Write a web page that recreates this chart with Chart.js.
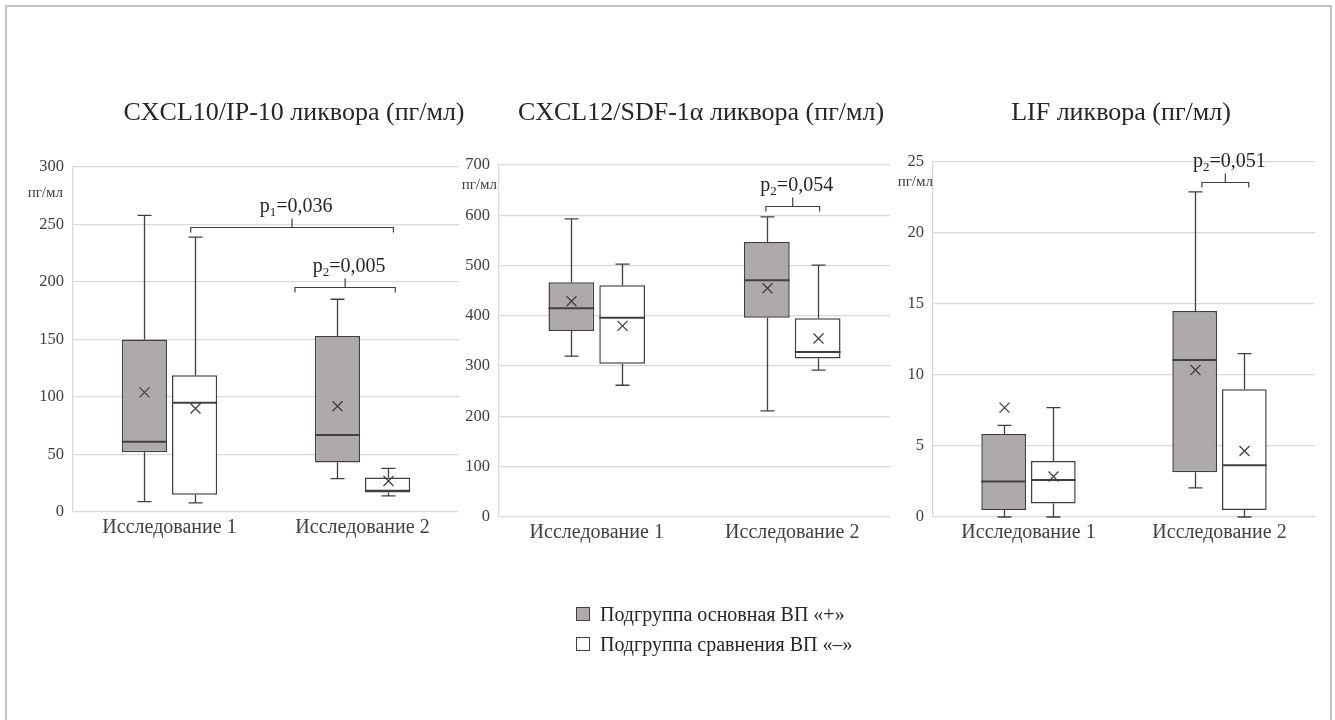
<!DOCTYPE html>
<html lang="ru">
<head>
<meta charset="utf-8">
<title>Цитокины ликвора</title>
<script src="https://cdn.jsdelivr.net/npm/chart.js@4.4.1/dist/chart.umd.min.js"></script>
<style>
  html, body { margin: 0; padding: 0; background: #fff; }
  body { width: 1335px; height: 720px; position: relative; overflow: hidden;
         font-family: 'Liberation Serif', 'Times New Roman', serif; }
  .frame { position: absolute; left: 5px; top: 5px; width: 1327px; height: 760px;
           border: 2px solid #c4c4c4; box-sizing: border-box; }
  canvas { position: absolute; top: 0; }
  #legend { position: absolute; left: 576px; top: 599px; color: #262626; font-size: 20px; }
  .lg-row { display: flex; align-items: center; height: 30px; }
  .lg-sw { width: 14px; height: 14px; border: 1px solid #404040; box-sizing: border-box; margin-right: 10px; }
</style>
</head>
<body>
<div class="frame"></div>
<canvas id="c1" width="470" height="720" style="left:0px"></canvas>
<canvas id="c2" width="460" height="720" style="left:440px"></canvas>
<canvas id="c3" width="460" height="720" style="left:875px"></canvas>
<div id="legend"></div>

<script>
// ===== DATA =====
// tiap titik: [min, Q1, median, Q3, max, mean]
const studies = ['Исследование 1', 'Исследование 2'];
const groupNames = ['Подгруппа основная ВП «+»', 'Подгруппа сравнения ВП «–»'];
const groupColors = ['#aeaaaa', '#ffffff'];

const cxcl10Main = [[9, 52, 61, 150, 258, 104], [29, 43, 67, 153, 185, 92]];
const cxcl10Comp = [[8, 15, 95, 119, 239, 90], [14, 17, 18.5, 30, 38, 27]];
const cxcl10Ticks = [0, 50, 100, 150, 200, 250, 300];

const cxcl12Main = [[320, 370, 415, 467, 593, 429], [211, 396, 471, 547, 597, 455]];
const cxcl12Comp = [[262, 305, 396, 461, 503, 380], [292, 315, 328, 395, 501, 355]];
const cxcl12Ticks = [0, 100, 200, 300, 400, 500, 600, 700];

const lifMain = [[0, 0.5, 2.5, 5.85, 6.45, 7.7], [2.05, 3.15, 11.05, 14.5, 22.9, 10.35]];
const lifComp = [[0, 0.95, 2.6, 3.95, 7.7, 2.85], [0, 0.5, 3.65, 9.0, 11.5, 4.65]];
const lifTicks = [0, 5, 10, 15, 20, 25];

// skobka p: dari/ke dalam satuan kategori, y dalam satuan nilai
const cxcl10Brackets = [
    { from: 0.11, to: 1.16, y: 248, idx: '1', text: '=0,036' },
    { from: 0.65, to: 1.17, y: 196, idx: '2', text: '=0,005' }
];
const cxcl12Brackets = [
    { from: 0.865, to: 1.14, y: 618, idx: '2', text: '=0,054' }
];
const lifBrackets = [
    { from: 0.908, to: 1.153, y: 23.6, idx: '2', text: '=0,051' }
];

const SERIF = "'Liberation Serif', 'Times New Roman', serif";
const INK = '#404040';

// ===== POSISI X DI SUMBU KATEGORI =====
function catX(chart, v) {
    const xs = chart.scales.x;
    const p0 = xs.getPixelForValue(0), p1 = xs.getPixelForValue(1);
    return p0 + v * (p1 - p0);
}

// ===== PLUGIN: KUMIS, MEDIAN, RATA-RATA, SKOBKA, JUDUL =====
const boxExtras = {
    id: 'boxExtras',
    afterDatasetsDraw(chart, args, opt) {
        const ctx = chart.ctx;
        const ys = chart.scales.y;
        const Y = v => ys.getPixelForValue(v);
        ctx.save();
        ctx.strokeStyle = INK;

        chart.data.datasets.forEach((ds, di) => {
            const meta = chart.getDatasetMeta(di);
            meta.data.forEach((bar, i) => {
                const [mn, q1, med, q3, mx, mean] = ds.stats[i];
                const x = Math.round(bar.x) + 0.5;
                const half = bar.width / 2;

                // kumis
                ctx.lineWidth = 1.3;
                ctx.beginPath();
                ctx.moveTo(x, Y(q3)); ctx.lineTo(x, Y(mx));
                ctx.moveTo(x - 7, Y(mx)); ctx.lineTo(x + 7, Y(mx));
                ctx.moveTo(x, Y(q1)); ctx.lineTo(x, Y(mn));
                ctx.moveTo(x - 7, Y(mn)); ctx.lineTo(x + 7, Y(mn));
                ctx.stroke();

                // median
                ctx.lineWidth = 2;
                ctx.beginPath();
                ctx.moveTo(bar.x - half, Y(med)); ctx.lineTo(bar.x + half, Y(med));
                ctx.stroke();

                // rata-rata (×)
                const my = Y(mean);
                ctx.lineWidth = 1.3;
                ctx.beginPath();
                ctx.moveTo(x - 5, my - 5); ctx.lineTo(x + 5, my + 5);
                ctx.moveTo(x + 5, my - 5); ctx.lineTo(x - 5, my + 5);
                ctx.stroke();
            });
        });

        // skobka p
        (opt.brackets || []).forEach(b => {
            const x1 = catX(chart, b.from), x2 = catX(chart, b.to);
            const xm = (x1 + x2) / 2;
            const yb = Math.round(Y(b.y)) + 0.5;
            ctx.lineWidth = 1.2;
            ctx.beginPath();
            ctx.moveTo(x1, yb + 5); ctx.lineTo(x1, yb); ctx.lineTo(x2, yb); ctx.lineTo(x2, yb + 5);
            ctx.moveTo(xm, yb); ctx.lineTo(xm, yb - 9);
            ctx.stroke();

            ctx.fillStyle = '#262626';
            ctx.textBaseline = 'alphabetic';
            ctx.textAlign = 'left';
            const big = '20px ' + SERIF, small = '13px ' + SERIF;
            ctx.font = big; const wP = ctx.measureText('p').width, wT = ctx.measureText(b.text).width;
            ctx.font = small; const wI = ctx.measureText(b.idx).width;
            let tx = xm + 4 - (wP + wI + wT) / 2;
            const ty = yb - 16;
            ctx.font = big; ctx.fillText('p', tx, ty); tx += wP;
            ctx.font = small; ctx.fillText(b.idx, tx, ty + 4); tx += wI;
            ctx.font = big; ctx.fillText(b.text, tx, ty);
        });

        // satuan sumbu
        const ca = chart.chartArea;
        ctx.fillStyle = INK;
        ctx.font = '15px ' + SERIF;
        ctx.textAlign = 'right';
        ctx.textBaseline = 'middle';
        ctx.fillText('пг/мл', ca.left + opt.unitDx, ca.top + opt.unitDy);

        // judul
        ctx.fillStyle = '#262626';
        ctx.font = '26px ' + SERIF;
        ctx.textAlign = 'center';
        ctx.textBaseline = 'middle';
        ctx.fillText(opt.title, opt.titleX, 113);
        ctx.restore();
    }
};

// ===== BUAT CHART =====
function makeChart(id, main, comp, ticks, cfg) {
    const groups = [main, comp];
    return new Chart(document.getElementById(id), {
        type: 'bar',
        data: {
            labels: studies,
            datasets: groups.map((g, gi) => ({
                label: groupNames[gi],
                data: g.map(s => [s[1], s[3]]),
                stats: g,
                backgroundColor: groupColors[gi],
                borderColor: INK,
                borderWidth: 1.5,
                borderSkipped: false,
                categoryPercentage: 0.52,
                barPercentage: 0.9
            }))
        },
        options: {
            responsive: false,
            animation: false,
            layout: { padding: cfg.padding },
            plugins: {
                legend: { display: false },
                tooltip: { enabled: false },
                boxExtras: cfg
            },
            scales: {
                x: {
                    grid: { display: false, drawTicks: false },
                    border: { display: false },
                    ticks: { color: INK, font: { family: SERIF, size: 20 }, padding: 4 },
                    afterFit: s => { s.height = 40; }
                },
                y: {
                    min: ticks[0],
                    max: ticks[ticks.length - 1],
                    afterBuildTicks: s => { s.ticks = ticks.map(v => ({ value: v })); },
                    grid: { color: '#d9d9d9', drawTicks: false, lineWidth: 1.3 },
                    border: { display: true, color: '#d9d9d9', width: 1.3 },
                    ticks: { color: INK, font: { family: SERIF, size: 16.5 }, padding: 9 },
                    afterFit: s => { s.width = 50; }
                }
            }
        },
        plugins: [boxExtras]
    });
}

document.addEventListener('DOMContentLoaded', () => {
    makeChart('c1', cxcl10Main, cxcl10Comp, cxcl10Ticks, {
        title: 'CXCL10/IP-10 ликвора (пг/мл)', titleX: 294,
        brackets: cxcl10Brackets, unitDx: -10, unitDy: 26,
        padding: { left: 23, right: 11, top: 167, bottom: 168 }
    });
    makeChart('c2', cxcl12Main, cxcl12Comp, cxcl12Ticks, {
        title: 'CXCL12/SDF-1α ликвора (пг/мл)', titleX: 701 - 440,
        brackets: cxcl12Brackets, unitDx: -2, unitDy: 20,
        padding: { left: 9, right: 10, top: 165, bottom: 163 }
    });
    makeChart('c3', lifMain, lifComp, lifTicks, {
        title: 'LIF ликвора (пг/мл)', titleX: 1121 - 875,
        brackets: lifBrackets, unitDx: 0, unitDy: 20,
        padding: { left: 8, right: 20, top: 162, bottom: 163 }
    });

    // legenda HTML
    const lg = document.getElementById('legend');
    groupNames.forEach((name, i) => {
        const row = document.createElement('div');
        row.className = 'lg-row';
        row.innerHTML = `<span class="lg-sw" style="background:${groupColors[i]}"></span><span>${name}</span>`;
        lg.appendChild(row);
    });
});
</script>
</body>
</html>
